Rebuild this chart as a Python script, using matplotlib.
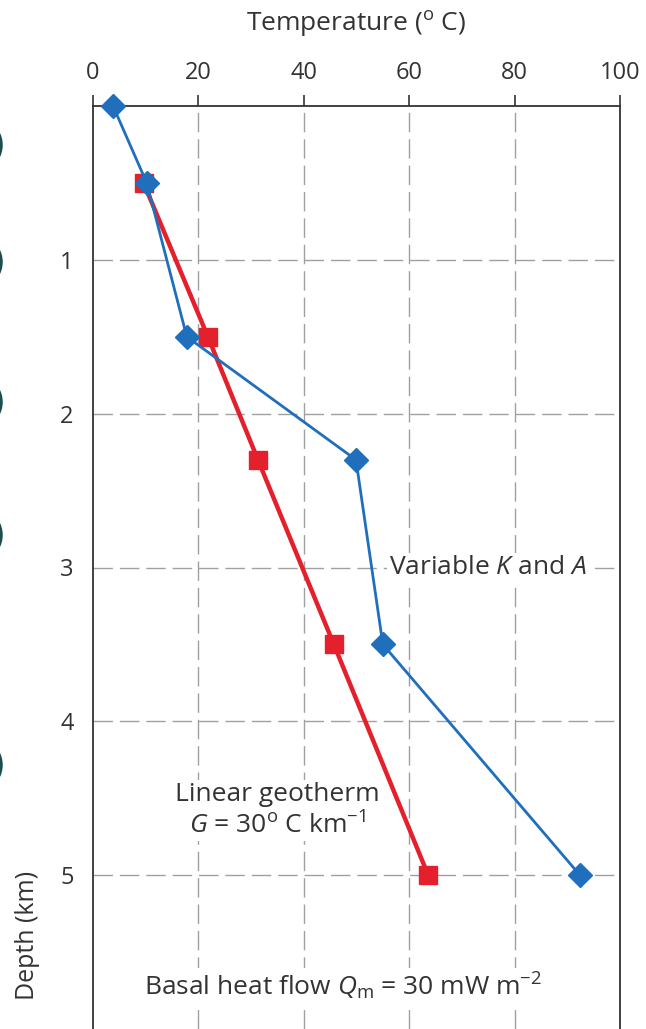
import matplotlib.pyplot as plt
from matplotlib.patches import Arc

plt.rcParams['font.family'] = ['Open Sans', 'DejaVu Sans']
plt.rcParams['mathtext.fontset'] = 'custom'
plt.rcParams['mathtext.rm'] = 'Open Sans'
plt.rcParams['mathtext.it'] = 'Open Sans:italic'

# data: temperature (C) vs depth (km)
var_temp = [3.8, 10.2, 17.8, 49.9, 55.0, 92.4]
var_depth = [0.0, 0.5, 1.5, 2.3, 3.5, 5.0]
lin_temp = [9.6, 21.8, 31.3, 45.7, 63.6]
lin_depth = [0.5, 1.5, 2.3, 3.5, 5.0]

x_ticks = [0, 20, 40, 60, 80, 100]
y_ticks = [1, 2, 3, 4, 5]

blue = '#1f6fbd'
red = '#e3202b'
txt = '#333333'

fig = plt.figure(figsize=(6.46, 10.29), dpi=100)

# thin arcs cut off at the left edge (pieces of a neighbouring panel)
bg = fig.add_axes([0, 0, 1, 1])
bg.set_xlim(0, 646)
bg.set_ylim(1029, 0)
bg.axis('off')
for yc in [145, 262, 402, 535, 765]:
    bg.add_patch(Arc((-17, yc), 36, 44, theta1=-45, theta2=45,
                     color='#1d4d4d', lw=2.5))

ax = fig.add_axes([93 / 646, 0.0, 527 / 646, 1 - 106 / 1029])
ax.set_xlim(0, 100)
ax.set_ylim(6.0, 0)

ax.plot(lin_temp, lin_depth, color=red, lw=3.2, marker='s', ms=13,
        mfc=red, mec=red, zorder=3)
ax.plot(var_temp, var_depth, color=blue, lw=2, marker='D', ms=12,
        mfc=blue, mec=blue, zorder=4, clip_on=False)

# axes styling
ax.xaxis.tick_top()
ax.xaxis.set_label_position('top')
ax.set_xticks(x_ticks)
ax.set_yticks(y_ticks)
ax.tick_params(axis='x', direction='out', length=8, width=1.2, color=txt,
               labelsize=17, labelcolor=txt, pad=7)
ax.tick_params(axis='y', length=0, labelsize=17, labelcolor=txt, pad=14)
for s in ['top', 'left', 'right']:
    ax.spines[s].set_color(txt)
    ax.spines[s].set_linewidth(1.3)
ax.spines['bottom'].set_visible(False)

for xv in x_ticks[1:-1]:
    ax.axvline(xv, color='#a0a0a0', lw=1, dashes=(14, 5), zorder=1)
for yv in y_ticks:
    ax.axhline(yv, color='#a0a0a0', lw=1, dashes=(14, 5), zorder=1)

ax.set_xlabel('Temperature ($^{\\mathrm{o}}$ C)', fontsize=19, color=txt,
              labelpad=22)
fig.text(28 / 646, 1 - 935 / 1029, 'Depth (km)', rotation=90, fontsize=18,
         color=txt, ha='center', va='center')

box = dict(facecolor='white', edgecolor='none', pad=1.5)
ax.text(56.2, 3.0, 'Variable $K$ and $A$', fontsize=19, color=txt,
        ha='left', va='center', bbox=box, zorder=5)
ax.text(34.9, 4.58, 'Linear geotherm\n$G$ = 30$^{\\mathrm{o}}$ C km$^{-1}$',
        fontsize=19, color=txt, ha='center', va='center', linespacing=1.25,
        bbox=box, zorder=5)
ax.text(47.4, 5.72, 'Basal heat flow $Q_{\\mathrm{m}}$ = 30 mW m$^{-2}$',
        fontsize=19, color=txt, ha='center', va='center', bbox=box, zorder=5)

fig.savefig('out.png', dpi=100, facecolor='white')
